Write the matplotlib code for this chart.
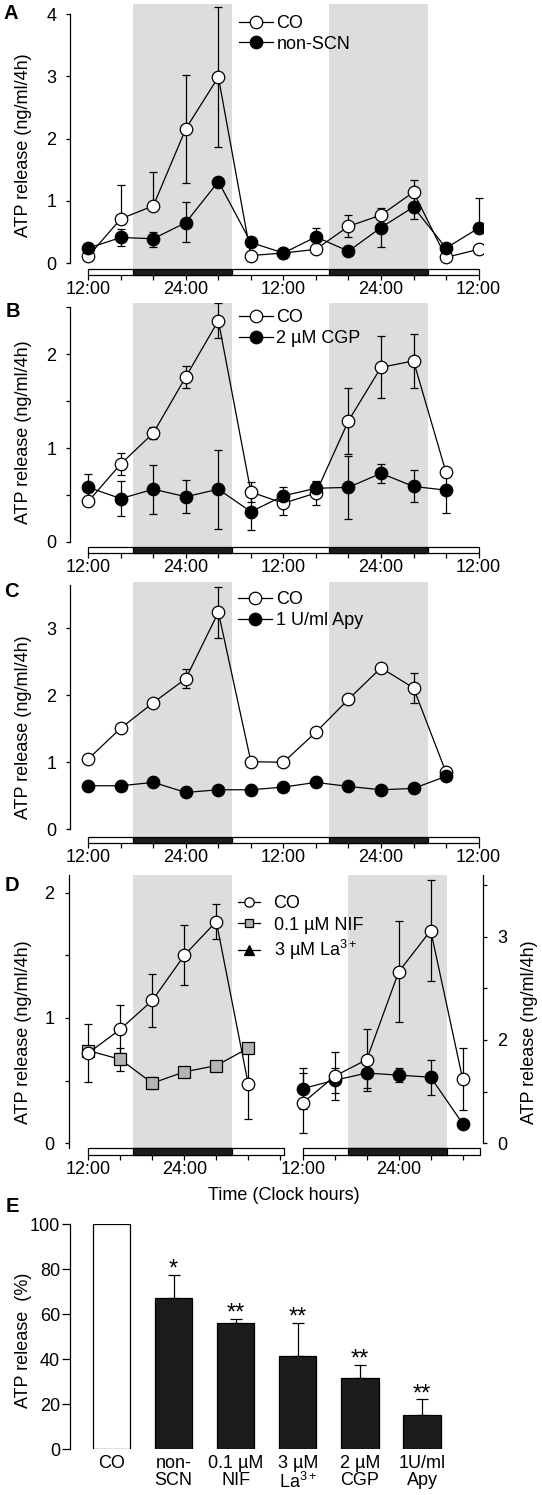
import numpy as np
import matplotlib
matplotlib.use('Agg')
import matplotlib.pyplot as plt
from matplotlib.patches import Rectangle
from matplotlib.lines import Line2D

plt.rcParams['font.family'] = ['Liberation Sans', 'DejaVu Sans']
plt.rcParams['mathtext.fontset'] = 'custom'
plt.rcParams['mathtext.rm'] = 'Liberation Sans'
plt.rcParams['mathtext.it'] = 'Liberation Sans:italic'
plt.rcParams['mathtext.bf'] = 'Liberation Sans:bold'
plt.rcParams['font.size'] = 13

# ---- datos (horas desde las 12:00) ----
hours_13 = [0, 4, 8, 12, 16, 20, 24, 28, 32, 36, 40, 44, 48]
hours_12 = [0, 4, 8, 12, 16, 20, 24, 28, 32, 36, 40, 44]
hours_6 = [0, 4, 8, 12, 16, 20]
dark_48 = [(5.5, 17.7), (29.65, 41.8)]
dark_24 = [(5.6, 18.0)]

# A: CO vs non-SCN
co_a = [0.11, 0.71, 0.92, 2.16, 2.99, 0.12, 0.16, 0.22, 0.59, 0.77, 1.14, 0.09, 0.22]
co_a_lo = [0, 0, 0, 0.87, 1.13, 0, 0, 0, 0.17, 0, 0, 0, 0]
co_a_hi = [0, 0.54, 0.55, 0.87, 1.13, 0, 0, 0, 0.18, 0.11, 0.20, 0, 0]
nonscn = [0.24, 0.41, 0.39, 0.65, 1.31, 0.33, 0.16, 0.42, 0.19, 0.57, 0.90, 0.24, 0.56]
nonscn_lo = [0, 0.13, 0.13, 0.32, 0.05, 0, 0, 0.15, 0, 0.32, 0.20, 0, 0]
nonscn_hi = [0, 0.13, 0.11, 0.33, 0.05, 0, 0, 0.15, 0, 0, 0.20, 0, 0.48]

# B: CO vs 2 uM CGP
co_b = [0.43, 0.83, 1.16, 1.76, 2.36, 0.53, 0.41, 0.52, 1.29, 1.86, 1.93, 0.74]
co_b_err = [0, 0.12, 0.06, 0.12, 0.19, 0.11, 0.13, 0.13, 0.35, 0.33, 0.29, 0]
cgp = [0.58, 0.46, 0.56, 0.48, 0.56, 0.32, 0.49, 0.57, 0.58, 0.73, 0.59, 0.55]
cgp_err = [0.14, 0.19, 0.26, 0.175, 0.42, 0.19, 0.09, 0.07, 0.335, 0.10, 0.17, 0.24]

# C: CO vs 1 U/ml Apy
co_c = [1.05, 1.51, 1.89, 2.25, 3.24, 1.01, 1.00, 1.45, 1.94, 2.41, 2.11, 0.85]
co_c_err = [0.03, 0.03, 0.03, 0.14, 0.38, 0.03, 0.03, 0.03, 0.03, 0.03, 0.22, 0.06]
apy = [0.65, 0.65, 0.70, 0.55, 0.59, 0.59, 0.63, 0.70, 0.64, 0.59, 0.61, 0.79]
apy_err = [0.04, 0.05, 0.03, 0.03, 0.04, 0.05, 0.05, 0.06, 0.03, 0.03, 0.05, 0.06]

# D izquierda: CO vs NIF
co_d1 = [0.72, 0.91, 1.14, 1.50, 1.77, 0.47]
co_d1_err = [0.23, 0.19, 0.21, 0.24, 0.14, 0.28]
nif = [0.74, 0.67, 0.48, 0.57, 0.62, 0.76]
nif_err = [0.02, 0.09, 0.05, 0.02, 0.02, 0.04]

# D derecha: CO vs La3+ (unidades del eje derecho)
co_d2 = [1.39, 1.65, 1.81, 2.66, 3.06, 1.62]
co_d2_err = [0.29, 0.23, 0.30, 0.49, 0.49, 0.30]
la = [1.53, 1.61, 1.68, 1.66, 1.64, 1.19]
la_err = [0.20, 0.12, 0.145, 0.065, 0.17, 0]
right_ticks = [1.0, 1.5, 2.0, 2.5, 3.0, 3.5]
right_labels = ['0', '', '2', '', '3', '']

# E: barras
groups = ['CO', 'non-\nSCN', '0.1 µM\nNIF', '3 µM\nLa$^{3+}$', '2 µM\nCGP', '1U/ml\nApy']
pct = [100, 67.1, 56.0, 41.6, 31.6, 15.3]
pct_err = [0, 10.5, 1.9, 14.7, 6.0, 6.9]
stars = ['', '*', '**', '**', '**', '**']

W, H = 542, 1495
fig = plt.figure(figsize=(W / 100, H / 100), dpi=100)
SHADE = '#dddddd'
DARK = '#1c1c1c'


def axes_px(l, t, r, b):
    return fig.add_axes([l / W, 1 - b / H, (r - l) / W, (b - t) / H])


def main_axes(l, r, x0, s, t, b, y0, ppu, base=0.0):
    ax = axes_px(l, t, r, b)
    ax.set_xlim((l - x0) / s, (r - x0) / s)
    ax.set_ylim(base - (b - y0) / ppu, base + (y0 - t) / ppu)
    for sp in ['top', 'right', 'bottom']:
        ax.spines[sp].set_visible(False)
    ax.spines['left'].set_linewidth(0.9)
    ax.set_xticks([])
    ax.tick_params(axis='y', direction='out', length=3, width=0.9, pad=7, labelsize=13)
    ax.patch.set_visible(False)
    return ax


def strip_axes(l, r, x0, s, t, b, total, darks, ticks, labels):
    ax = axes_px(l, t, r, b)
    ax.set_xlim((l - x0) / s, (r - x0) / s)
    ax.set_ylim(0, 1)
    for sp in ax.spines.values():
        sp.set_visible(False)
    ax.add_patch(Rectangle((0, 0), total, 1, fc='white', ec='black', lw=0.9, clip_on=False))
    for a, c in darks:
        ax.add_patch(Rectangle((a, 0), c - a, 1, fc=DARK, ec='black', lw=0.9, clip_on=False))
    ax.set_yticks([])
    ax.set_xticks(ticks)
    ax.set_xticklabels(labels)
    ax.tick_params(axis='x', direction='out', length=3.5, width=0.9, pad=0.5, labelsize=13)
    ax.patch.set_visible(False)
    return ax


def series(ax, x, y, lo, hi, fc, z, marker='o', ms=9):
    ax.errorbar(x, y, yerr=[lo, hi], fmt='none', ecolor='black', elinewidth=0.9,
                capsize=3, capthick=0.9, zorder=2)
    ln, = ax.plot(x, y, '-', marker=marker, color='black', lw=0.9, mfc=fc, mec='black',
                  ms=ms, mew=0.9, zorder=z)
    return ln


def legend_at(handles, labels, x, y, **kw):
    opts = dict(loc='upper left', bbox_to_anchor=(x / W, 1 - y / H), bbox_transform=fig.transFigure,
                frameon=False, borderpad=0, borderaxespad=0, fontsize=13,
                handlelength=1.9, handletextpad=0.2, labelspacing=0.2)
    opts.update(kw)
    fig.legend(handles, labels, **opts)


ticks48 = list(range(0, 49, 4))
labels48 = ['12:00' if h in (0, 24, 48) else ('24:00' if h in (12, 36) else '') for h in ticks48]
YLAB = 'ATP release (ng/ml/4h)'

# ---------- A ----------
X0, S = 88.3, 8.13
axA = main_axes(70.3, 483, X0, S, 4, 267.5, 263, 62.2)
for a, c in dark_48:
    axA.axvspan(a, c, color=SHADE, lw=0, zorder=0)
la1 = series(axA, hours_13, co_a, co_a_lo, co_a_hi, 'white', 3)
la2 = series(axA, hours_13, nonscn, nonscn_lo, nonscn_hi, 'black', 4)
axA.set_yticks([0, 1, 2, 3, 4])
axA.spines['left'].set_bounds(0, 4)
legend_at([la1, la2], ['CO', 'non-SCN'], 238.5, 15)
strip_axes(70.3, 483, X0, S, 269, 275.3, 48, dark_48, ticks48, labels48)

# ---------- B ----------
axB = main_axes(70.3, 483, X0, S, 303.3, 545.5, 541.7, 93.7)
for a, c in dark_48:
    axB.axvspan(a, c, color=SHADE, lw=0, zorder=0)
lb1 = series(axB, hours_12, co_b, co_b_err, co_b_err, 'white', 3)
lb2 = series(axB, hours_12, cgp, cgp_err, cgp_err, 'black', 4)
axB.set_yticks([0, 0.5, 1, 1.5, 2, 2.5])
axB.set_yticklabels(['0', '', '1', '', '2', ''])
axB.spines['left'].set_bounds(0, 2.5)
legend_at([lb1, lb2], ['CO', '2 µM CGP'], 238.5, 309.5)
strip_axes(70.3, 483, X0, S, 546.7, 553.3, 48, dark_48, ticks48, labels48)

# ---------- C ----------
axC = main_axes(70.3, 483, X0, S, 581.7, 835.5, 829.3, 67.0)
for a, c in dark_48:
    axC.axvspan(a, c, color=SHADE, lw=0, zorder=0)
lc1 = series(axC, hours_12, co_c, co_c_err, co_c_err, 'white', 3)
lc2 = series(axC, hours_12, apy, apy_err, apy_err, 'black', 4)
axC.set_yticks([0, 1, 2, 3])
axC.spines['left'].set_bounds(0, 3.64)
legend_at([lc1, lc2], ['CO', '1 U/ml Apy'], 238, 591.5)
strip_axes(70.3, 483, X0, S, 836.7, 843.3, 48, dark_48, ticks48, labels48)

# ---------- D ----------
SD = 8.0
axD1 = main_axes(68.5, 284, 88.3, SD, 875, 1147.5, 1143.3, 125.3)
for a, c in dark_24:
    axD1.axvspan(a, c, color=SHADE, lw=0, zorder=0)
ld1 = series(axD1, hours_6, co_d1, co_d1_err, co_d1_err, 'white', 4)
ld2 = series(axD1, hours_6, nif, nif_err, nif_err, '#b4b4b4', 3, marker='s', ms=8.5)
axD1.set_yticks([0, 0.5, 1, 1.5, 2])
axD1.set_yticklabels(['0', '', '1', '', '2'])
strip_axes(68.5, 284, 88.3, SD, 1148.3, 1155, 24.4, dark_24,
           [0, 4, 8, 12, 16, 20, 24], ['12:00', '', '', '24:00', '', '', ''])

axD2 = main_axes(296, 483.3, 302.7, SD, 875, 1147.5, 1143.3, 103.3, base=1.0)
axD2.spines['left'].set_visible(False)
axD2.spines['right'].set_visible(True)
axD2.spines['right'].set_linewidth(0.9)
axD2.spines['right'].set_bounds(1.0, axD2.get_ylim()[1])
axD2.yaxis.tick_right()
axD2.tick_params(axis='y', direction='out', length=3, width=0.9, pad=7, labelsize=13)
for a, c in dark_24:
    axD2.axvspan(a, c, color=SHADE, lw=0, zorder=0)
series(axD2, hours_6, co_d2, co_d2_err, co_d2_err, 'white', 4)
series(axD2, hours_6, la, la_err, la_err, 'black', 3)
axD2.set_yticks(right_ticks)
axD2.set_yticklabels(right_labels)
strip_axes(296, 483.3, 302.7, SD, 1148.3, 1155, 22.1, dark_24,
           [0, 4, 8, 12, 16, 20], ['12:00', '', '', '24:00', '', ''])

tri = Line2D([], [], color='black', lw=0.9, marker='^', mfc='black', mec='black', ms=9, mew=0.9)
legend_at([ld1, ld2, tri], ['CO', '0.1 µM NIF', '3 µM La$^{3+}$'], 238.3, 895,
          handlelength=1.2, handletextpad=0.75, labelspacing=0.25, markerscale=0.75)
fig.text(283.7 / W, 1 - 1195 / H, 'Time (Clock hours)', ha='center', va='center', fontsize=13)

# ---------- E ----------
axE = axes_px(69.6, 1224.3, 445, 1449.3)
pos = np.arange(len(groups))
axE.set_xlim((69.6 - 111.4) / 62.12, (445 - 111.4) / 62.12)
axE.set_ylim(0, 100)
colors = ['white'] + [DARK] * (len(groups) - 1)
axE.bar(pos, pct, width=0.6, color=colors, edgecolor='black', lw=0.9, zorder=2)
axE.errorbar(pos, pct, yerr=[np.zeros(len(pct)), pct_err], fmt='none', ecolor='black',
             elinewidth=0.9, capsize=4.5, capthick=0.9, zorder=1)
for p, v, e, st in zip(pos, pct, pct_err, stars):
    if st:
        axE.annotate(st, (p, v + e), xytext=(0, -0.5), textcoords='offset points',
                     ha='center', va='baseline', fontsize=17)
for sp in ['top', 'right', 'bottom']:
    axE.spines[sp].set_visible(False)
axE.spines['left'].set_linewidth(0.9)
axE.set_yticks([0, 20, 40, 60, 80, 100])
axE.tick_params(axis='y', direction='out', length=5.5, width=0.9, pad=1.5, labelsize=13)
axE.set_xticks(pos)
axE.set_xticklabels(groups, fontsize=13, linespacing=1.0)
axE.tick_params(axis='x', length=0, pad=4)
axE.patch.set_visible(False)

# ---------- rotulos ----------
for txt, y in [(YLAB, 145), (YLAB, 431.7), (YLAB, 726.7), (YLAB, 1032), ('ATP release  (%)', 1340)]:
    fig.text(24 / W, 1 - y / H, txt, rotation=90, ha='center', va='center', fontsize=13)
fig.text(529.5 / W, 1 - 1031.7 / H, YLAB, rotation=90, ha='center', va='center', fontsize=13)
for lab, x, y in [('A', 11, 13.3), ('B', 13, 311.7), ('C', 11, 591.7), ('D', 12, 886), ('E', 12, 1207)]:
    fig.text(x / W, 1 - y / H, lab, ha='center', va='center', fontsize=14.5, fontweight='bold')

fig.savefig('out.png', dpi=100)
